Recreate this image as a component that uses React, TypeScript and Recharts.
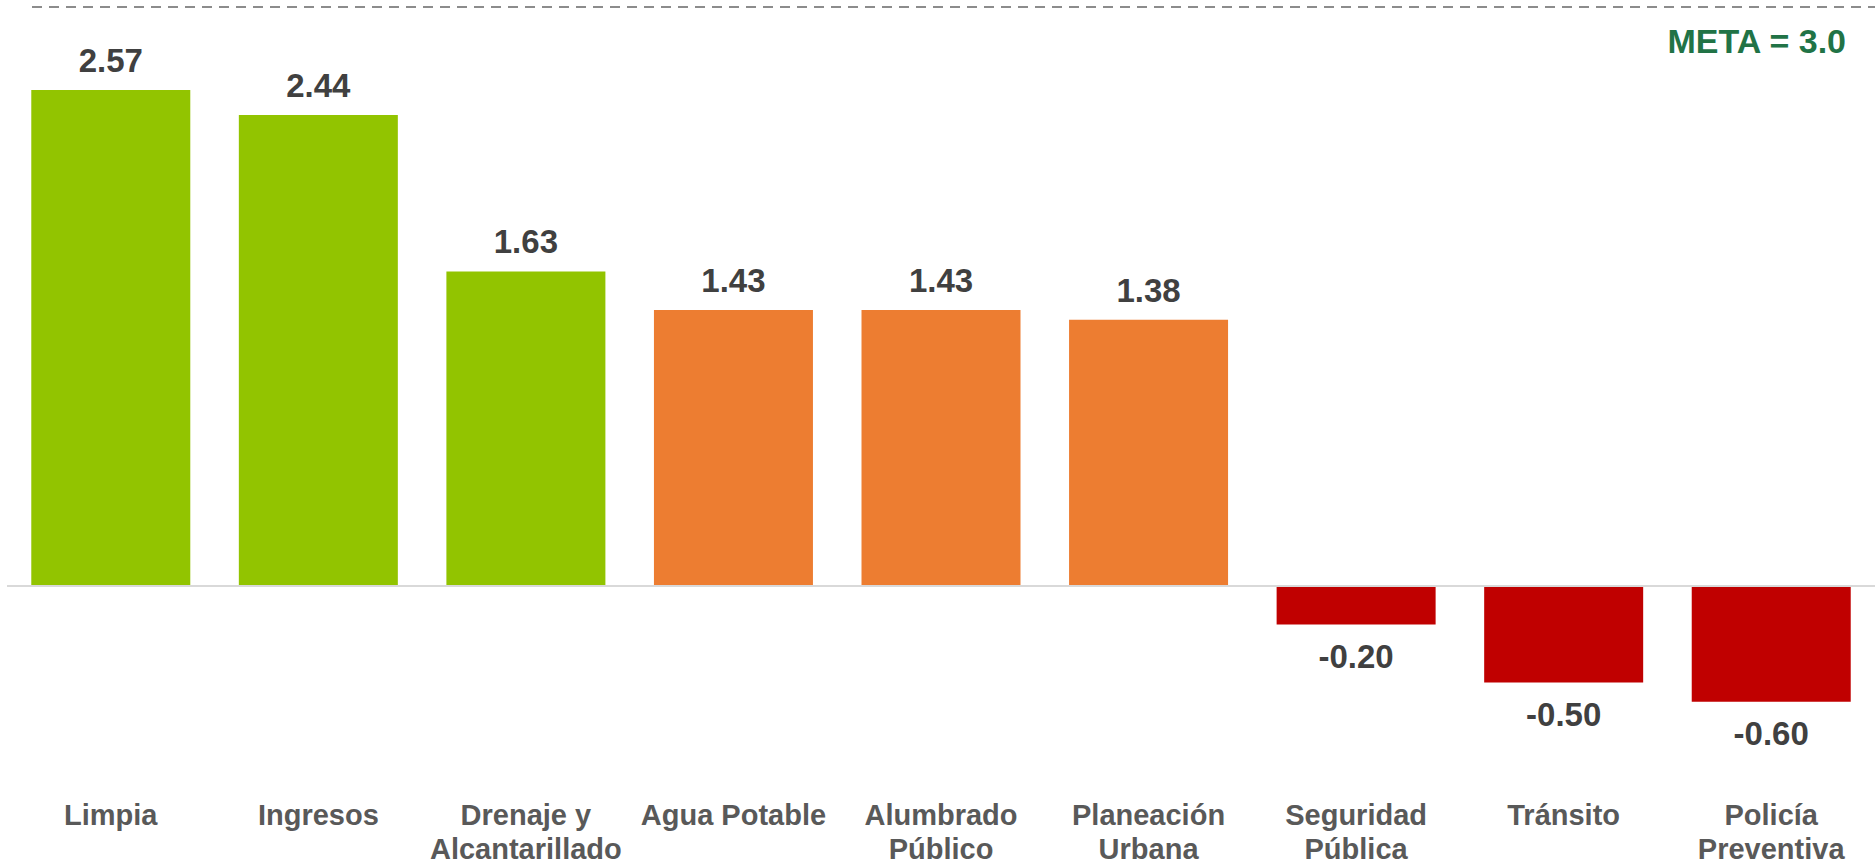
import { BarChart, Bar, XAxis, YAxis, Cell, LabelList, ReferenceLine } from 'recharts';

const categories = [
    'Limpia',
    'Ingresos',
    'Drenaje y\nAlcantarillado',
    'Agua Potable',
    'Alumbrado\nPúblico',
    'Planeación\nUrbana',
    'Seguridad\nPública',
    'Tránsito',
    'Policía\nPreventiva',
];
const values = [2.57, 2.44, 1.63, 1.43, 1.43, 1.38, -0.2, -0.5, -0.6];
const barColors = ['#92C400', '#92C400', '#92C400', '#ED7D31', '#ED7D31', '#ED7D31', '#C00000', '#C00000', '#C00000'];
const meta = 3.0;
const metaLabel = 'META = 3.0';
const yDomain = [-1, 3];

const data = categories.map((name, i) => ({ name, value: values[i] }));

const FONT = '"Liberation Sans", Arial, sans-serif';

function CategoryTick({ x, y, payload }: any) {
    const lines = String(payload.value).split('\n');
    return (
        <text x={x} y={y} textAnchor="middle" fill="#595959" fontSize={29} fontWeight="bold" fontFamily={FONT}>
            {lines.map((line: string, i: number) => (
                <tspan key={i} x={x} dy={i === 0 ? 38 : 34}>{line}</tspan>
            ))}
        </text>
    );
}

function ValueLabel({ x, y, width, height, value }: any) {
    const top = Math.min(y, y + height);
    const bottom = Math.max(y, y + height);
    const ty = value >= 0 ? top - 18 : bottom + 43;
    return (
        <text x={x + width / 2} y={ty} textAnchor="middle" fill="#404040" fontSize={33} fontWeight="bold" fontFamily={FONT}>
            {Number(value).toFixed(2)}
        </text>
    );
}

function MetaLine(props: any) {
    const { x1, y1, x2, y2 } = props;
    return <line x1={x1 + 25} y1={y1} x2={x2} y2={y2} stroke="#8C8C8C" strokeWidth={2} strokeDasharray="10 7" />;
}

function MetaText({ viewBox }: any) {
    return (
        <text x={viewBox.x + viewBox.width - 29} y={viewBox.y + 46} textAnchor="end" fill="#217346" fontSize={34} fontWeight="bold" fontFamily={FONT}>
            {metaLabel}
        </text>
    );
}

export default function App() {
    return (
        <div style={{ position: 'absolute', left: 0, top: 0, background: '#fff' }}>
            <BarChart width={1875} height={864} data={data} margin={{ top: 7, right: 0, bottom: 0, left: 7 }} barCategoryGap="11.7%">
                <XAxis dataKey="name" axisLine={false} tickLine={false} interval={0} height={85} tick={<CategoryTick />} />
                <YAxis hide domain={yDomain} />
                <ReferenceLine y={0} stroke="#D9D9D9" strokeWidth={2} />
                <ReferenceLine y={meta} shape={<MetaLine />} label={<MetaText />} />
                <Bar dataKey="value" isAnimationActive={false}>
                    {data.map((entry, index) => (
                        <Cell key={`cell-${index}`} fill={barColors[index]} />
                    ))}
                    <LabelList dataKey="value" content={<ValueLabel />} />
                </Bar>
            </BarChart>
        </div>
    );
}
